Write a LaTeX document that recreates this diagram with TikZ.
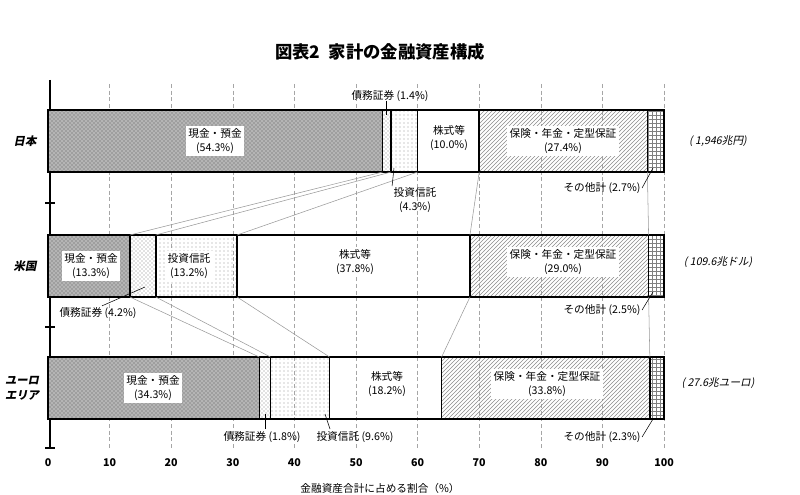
\documentclass[tikz,border=0pt]{standalone}
\usepackage{fontspec}
\setmainfont{Noto Sans CJK JP}
\newfontfamily\jpslant[FakeSlant=0.2]{Noto Sans CJK JP}
\usetikzlibrary{patterns}

\tikzset{
  barline/.style={draw=black, line width=1.1pt},
  lbl/.style={fill=white, font=\fontsize{8}{10}\selectfont, align=center, inner sep=2pt},
  call/.style={font=\fontsize{8}{10}\selectfont, align=center, inner sep=1pt},
  lead/.style={draw=gray!80, line width=0.4pt},
  gridline/.style={draw=gray!70, dash pattern=on 3pt off 2pt, line width=0.4pt}
}
\newcommand{\X}[1]{{48+6.16*(#1)}}
% one stacked bar: top, five boundaries
\newcommand{\stackbar}[6]{%
  \fill[gray!75] (\X{0},#1) rectangle (\X{#2},{#1+62});
  \fill[pattern=crosshatch dots, pattern color=white] (\X{0},#1) rectangle (\X{#2},{#1+62});
  \fill[pattern=crosshatch dots, pattern color=gray] (\X{#2},#1) rectangle (\X{#3},{#1+62});
  \fill[pattern=dots, pattern color=gray!80] (\X{#3},#1) rectangle (\X{#4},{#1+62});
  \fill[pattern=north east lines, pattern color=gray!90] (\X{#5},#1) rectangle (\X{#6},{#1+62});
  \fill[pattern=grid, pattern color=gray] (\X{#6},#1) rectangle (\X{100},{#1+62});
  \draw[barline] (\X{0},#1) rectangle (\X{100},{#1+62});
  \draw[barline] (\X{#2},#1) -- (\X{#2},{#1+62});
  \draw[barline] (\X{#3},#1) -- (\X{#3},{#1+62});
  \draw[barline] (\X{#4},#1) -- (\X{#4},{#1+62});
  \draw[barline] (\X{#5},#1) -- (\X{#5},{#1+62});
  \draw[barline] (\X{#6},#1) -- (\X{#6},{#1+62});
}

\begin{document}
\begin{tikzpicture}[x=0.75pt,y=-0.75pt]
\useasboundingbox (0,0) rectangle (800,495);

% title
\node[font=\fontsize{13}{15}\selectfont\bfseries] (title) at (380,52) {図表2\enspace 家計の金融資産構成};

% grid and axis
\foreach \v in {10,20,...,100}
  \draw[gridline] (\X{\v},84) -- (\X{\v},448);
\foreach \v in {0,10,...,100}
  \node[font=\fontsize{8}{10}\selectfont\bfseries] (tick\v) at (\X{\v},463) {\v};
\draw[line width=2pt] (50,80) -- (50,448);
\foreach \yy in {203,327,448}
  \draw[line width=1.2pt] (45,\yy) -- (55,\yy);
\node[font=\fontsize{8}{10}\selectfont] (xlab) at (380,488) {金融資産合計に占める割合（\%）};

% bars
\stackbar{110}{54.3}{55.7}{60.0}{70.0}{97.3}
\stackbar{235}{13.3}{17.5}{30.7}{68.5}{97.5}
\stackbar{357}{34.3}{36.1}{45.7}{63.9}{97.7}

% leaders between rows
\foreach \p/\q in {54.3/13.3, 55.7/17.5, 60.0/30.7, 70.0/68.5, 97.3/97.5}
  \draw[lead] (\X{\p},172) -- (\X{\q},235);
\foreach \p/\q in {13.3/34.3, 17.5/36.1, 30.7/45.7, 68.5/63.9, 97.5/97.7}
  \draw[lead] (\X{\p},297) -- (\X{\q},357);

% row names and totals
\begin{scope}[font=\jpslant\fontsize{8.5}{11}\selectfont\bfseries]
\node (jp) at (25,141) {日本};
\node (us) at (25,266) {米国};
\node[align=center] (eu) at (22,388) {ユーロ\\エリア};
\end{scope}
\begin{scope}[font=\jpslant\fontsize{8}{10}\selectfont]
\node (jpsum) at (718,141) {( 1,946兆円)};
\node (ussum) at (718,262) {( 109.6兆ドル)};
\node (eusum) at (718,383) {( 27.6兆ユーロ)};
\end{scope}

% Japan labels
\node[lbl] (jpcash) at (215,141) {現金・預金\\(54.3\%)};
\node[lbl] (jpstk) at (449,138) {株式等\\(10.0\%)};
\node[lbl] (jpins) at (563,141) {保険・年金・定型保証\\(27.4\%)};
\node[call] (jpbond) at (390,96) {債務証券 (1.4\%)};
\node[call] (jpinv) at (415,200) {投資信託\\(4.3\%)};
\node[call] (jpoth) at (602,188) {その他計 (2.7\%)};
\draw (386,101) -- (386,115);
\draw (jpinv.north west) -- (394,168);
\draw (jpoth.east) -- (653,168);

% US labels
\node[lbl] (uscash) at (91,266) {現金・預金\\(13.3\%)};
\node[lbl] (usinv) at (189,266) {投資信託\\(13.2\%)};
\node[lbl] (usstk) at (355,262) {株式等\\(37.8\%)};
\node[lbl] (usins) at (563,262) {保険・年金・定型保証\\(29.0\%)};
\node[call] (usbond) at (98,313) {債務証券 (4.2\%)};
\node[call] (usoth) at (602,310) {その他計 (2.5\%)};
\draw ([xshift=3pt]usbond.north) -- (145,287);
\draw (usoth.east) -- (653,292);

% Euro labels
\node[lbl] (eucash) at (153,388) {現金・預金\\(34.3\%)};
\node[lbl] (eustk) at (387,384) {株式等\\(18.2\%)};
\node[lbl] (euins) at (547,384) {保険・年金・定型保証\\(33.8\%)};
\node[call] (eubond) at (262,437) {債務証券 (1.8\%)};
\node[call] (euinv) at (355,437) {投資信託 (9.6\%)};
\node[call] (euoth) at (602,437) {その他計 (2.3\%)};
\draw (265,429) -- (265,414);
\draw (325,414) -- (330,429);
\draw (euoth.east) -- (653,419);
\end{tikzpicture}
\end{document}
